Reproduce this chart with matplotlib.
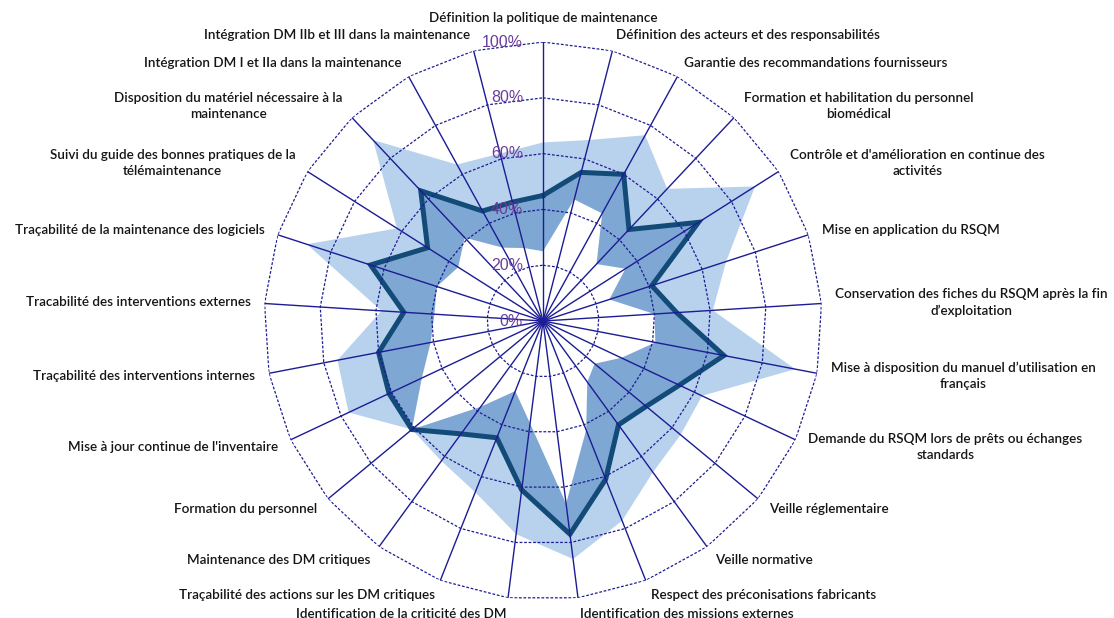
import numpy as np
import matplotlib
matplotlib.use("Agg")
from matplotlib import pyplot as plt

# criteres (sens horaire depuis le haut)
criteres = [
    "Définition la politique de maintenance",
    "Définition des acteurs et des responsabilités",
    "Garantie des recommandations fournisseurs",
    "Formation et habilitation du personnel\nbiomédical",
    "Contrôle et d'amélioration en continue des\nactivités",
    "Mise en application du RSQM",
    "Conservation des fiches du RSQM après la fin\nd’exploitation",
    "Mise à disposition du manuel d’utilisation en\nfrançais",
    "Demande du RSQM lors de prêts ou échanges\nstandards",
    "Veille réglementaire",
    "Veille normative",
    "Respect des préconisations fabricants",
    "Identification des missions externes",
    "Identification de la criticité des DM",
    "Traçabilité des actions sur les DM critiques",
    "Maintenance des DM critiques",
    "Formation du personnel",
    "Mise à jour continue de l'inventaire",
    "Traçabilité des interventions internes",
    "Tracabilité des interventions externes",
    "Traçabilité de la maintenance des logiciels",
    "Suivi du guide des bonnes pratiques de la\ntélémaintenance",
    "Disposition du matériel nécessaire à la\nmaintenance",
    "Intégration DM I et IIa dans la maintenance",
    "Intégration DM IIb et III dans la maintenance",
]

# valeurs en %
maxi = [64, 67, 76, 65, 90, 69, 61, 92, 63, 64, 67, 77, 86, 77, 66, 62, 61, 77, 75, 58, 89, 62, 89, 64, 62]
moyenne = [45, 55, 60, 45, 66, 41, 48, 66, 54, 48, 46, 61, 77, 61, 45, 50, 61, 61, 60, 50, 65, 49, 64, 45, 44]
mini = [25, 45, 44, 28, 35, 25, 40, 41, 31, 24, 27, 42, 66, 37, 27, 38, 61, 48, 41, 39, 40, 36, 41, 30, 27]
graduations = [0, 20, 40, 60, 80, 100]

n = len(criteres)
theta = np.arange(n) * 2 * np.pi / n
th = np.append(theta, theta[0])

def ferme(v):
    v = np.array(v) / 100.0
    return np.append(v, v[0])

navy = "#1c1c94"
fig = plt.figure(figsize=(11.14, 6.18), dpi=100)
ax = fig.add_axes([0.2370, 0.0291, 0.5009, 0.9029], projection="polar")
ax.set_theta_zero_location("N")
ax.set_theta_direction(-1)
ax.set_ylim(0, 1)
ax.grid(False)
ax.spines["polar"].set_visible(False)
ax.set_xticks([])
ax.set_yticks([])
ax.patch.set_alpha(0)

ax.fill(th, ferme(maxi), color="#b8d2ee", lw=0, zorder=1)
ax.fill(th, ferme(moyenne), color="#7fa7d3", lw=0, zorder=1.1)
ax.fill(th, ferme(mini), color="white", lw=0, zorder=1.2)
ax.plot(th, ferme(moyenne), color="#124a78", lw=3.6, zorder=2, solid_joinstyle="miter")

# grille en polygone
for g in graduations[1:]:
    ax.plot(th, np.full(n + 1, g / 100.0), color=navy, lw=0.9, ls=(0, (2.2, 1.4)), zorder=3)
for t in theta:
    ax.plot([t, t], [0, 1], color=navy, lw=1.0, zorder=3)

for g in graduations:
    ax.annotate(f"{g}%", xy=(0, g / 100.0), xytext=(-20, 0), textcoords="offset pixels",
                ha="right", va="center", fontsize=11.5, color="#6a3d9a",
                family="Liberation Sans", zorder=5)

for k, (t, lab) in enumerate(zip(theta, criteres)):
    s, c = np.sin(t), np.cos(t)
    if k == 0:
        ha, dx, dy = "center", 0, 24
    else:
        ha = "left" if s > 0 else "right"
        dx, dy = 14 * s, 16 * c
    ax.annotate(lab, xy=(t, 1.0), xytext=(dx, dy), textcoords="offset pixels",
                ha=ha, va="center", multialignment="center", fontsize=9.7,
                family="Lato", fontweight="semibold", color="#151515",
                linespacing=1.4, annotation_clip=False)

plt.savefig("out.png", dpi=100)
